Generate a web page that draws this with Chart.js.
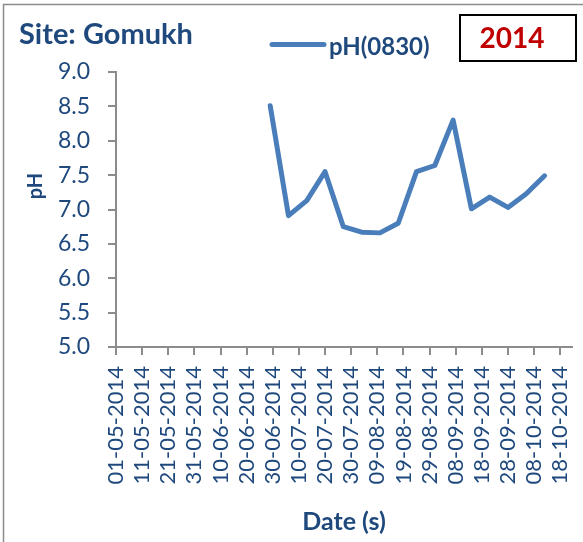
<!DOCTYPE html>
<html>
<head>
<meta charset="utf-8">
<script src="https://cdn.jsdelivr.net/npm/chart.js@4.4.1/dist/chart.umd.min.js"></script>
<style>
  html, body { margin: 0; padding: 0; background: #ffffff; }
  #wrap { position: relative; width: 583px; height: 542px; }
</style>
</head>
<body>
<div id="wrap"><canvas id="c" width="583" height="542"></canvas></div>
<script>
// ---- Data ----
const sampleDates = ['29-06-2014','06-07-2014','13-07-2014','20-07-2014','27-07-2014','03-08-2014','10-08-2014','17-08-2014',
                     '24-08-2014','31-08-2014','07-09-2014','14-09-2014','21-09-2014','28-09-2014','05-10-2014','12-10-2014'];
const phValues = [8.51, 6.91, 7.13, 7.55, 6.75, 6.67, 6.66, 6.80, 7.55, 7.64, 8.30, 7.01, 7.18, 7.03, 7.23, 7.49];
const xTickLabels = ['01-05-2014','11-05-2014','21-05-2014','31-05-2014','10-06-2014','20-06-2014','30-06-2014','10-07-2014',
                     '20-07-2014','30-07-2014','09-08-2014','19-08-2014','29-08-2014','08-09-2014','18-09-2014','28-09-2014',
                     '08-10-2014','18-10-2014'];
const yTickValues = [5.0, 5.5, 6.0, 6.5, 7.0, 7.5, 8.0, 8.5, 9.0];
const seriesName = 'pH(0830)';
const siteTitle = 'Site: Gomukh';
const yearLabel = '2014';
const xAxisTitle = 'Date (s)';
const yAxisTitle = 'pH';

function dayNum(s) {
  const [d, m, y] = s.split('-').map(Number);
  return Date.UTC(y, m - 1, d) / 86400000;
}
const xMin = dayNum(xTickLabels[0]);
const xMax = xMin + 174.5;

const BLUE_TEXT = '#1F497D';
const LINE_BLUE = '#4A7EBB';
const AXIS_GRAY = '#8C8C8C';

const decorPlugin = {
  id: 'decor',
  afterDraw(chart) {
    const ctx = chart.ctx;
    ctx.save();
    // outer frame
    ctx.strokeStyle = '#8C8C8C';
    ctx.lineWidth = 1.5;
    ctx.beginPath();
    ctx.moveTo(3.5, 600); ctx.lineTo(3.5, 4.5); ctx.lineTo(600, 4.5);
    ctx.stroke();
    // site title
    ctx.fillStyle = BLUE_TEXT;
    ctx.font = 'bold 29px Lato';
    ctx.textAlign = 'left';
    ctx.textBaseline = 'alphabetic';
    ctx.fillText(siteTitle, 19, 44);
    // legend
    ctx.strokeStyle = LINE_BLUE;
    ctx.lineWidth = 5;
    ctx.lineCap = 'round';
    ctx.beginPath();
    ctx.moveTo(272, 44.5); ctx.lineTo(324, 44.5);
    ctx.stroke();
    ctx.font = 'bold 24px Lato';
    ctx.fillStyle = BLUE_TEXT;
    ctx.fillText(seriesName, 329, 55);
    // year box
    ctx.lineCap = 'butt';
    ctx.strokeStyle = '#000000';
    ctx.lineWidth = 2;
    ctx.strokeRect(460, 15, 116, 46);
    ctx.fillStyle = '#C00000';
    ctx.font = 'bold 28px Lato';
    ctx.textAlign = 'center';
    ctx.textBaseline = 'middle';
    ctx.fillText(yearLabel, 512, 38.5);
    // y axis title
    ctx.translate(36, 186);
    ctx.rotate(-Math.PI / 2);
    ctx.fillStyle = BLUE_TEXT;
    ctx.font = 'bold 20px Lato';
    ctx.fillText(yAxisTitle, 0, 0);
    ctx.restore();
  }
};

new Chart(document.getElementById('c'), {
  type: 'line',
  data: {
    datasets: [{
      label: seriesName,
      data: sampleDates.map((d, i) => ({ x: dayNum(d), y: phValues[i] })),
      borderColor: LINE_BLUE,
      backgroundColor: LINE_BLUE,
      borderWidth: 5,
      pointRadius: 0,
      tension: 0,
      borderCapStyle: 'round',
      borderJoinStyle: 'round',
      fill: false
    }]
  },
  options: {
    responsive: false,
    animation: false,
    events: [],
    layout: { padding: { top: 72, right: 11, left: 0, bottom: 0 } },
    plugins: {
      legend: { display: false },
      title: { display: false },
      tooltip: { enabled: false }
    },
    scales: {
      x: {
        type: 'linear',
        min: xMin,
        max: xMax,
        afterFit(scale) { scale.height = 195; scale.paddingLeft = 0; scale.paddingRight = 0; },
        afterBuildTicks(scale) { scale.ticks = xTickLabels.map(l => ({ value: dayNum(l) })); },
        grid: { display: true, drawOnChartArea: false, drawTicks: true, tickLength: 8, color: AXIS_GRAY, lineWidth: 2 },
        border: { display: true, color: AXIS_GRAY, width: 2 },
        ticks: {
          autoSkip: false,
          maxRotation: 90,
          minRotation: 90,
          padding: 11,
          color: BLUE_TEXT,
          font: { family: 'Lato', size: 22 },
          callback: (v, i) => xTickLabels[i]
        },
        title: {
          display: true,
          text: xAxisTitle,
          color: BLUE_TEXT,
          font: { family: 'Lato', size: 25, weight: 'bold' },
          padding: { top: 0, bottom: 5 }
        }
      },
      y: {
        min: 5,
        max: 9,
        afterFit(scale) { scale.width = 116; scale.paddingTop = 0; scale.paddingBottom = 0; },
        afterBuildTicks(scale) { scale.ticks = yTickValues.map(v => ({ value: v })); },
        grid: { display: true, drawOnChartArea: false, drawTicks: true, tickLength: 8, color: AXIS_GRAY, lineWidth: 2 },
        border: { display: true, color: AXIS_GRAY, width: 2 },
        ticks: {
          padding: 18,
          color: BLUE_TEXT,
          font: { family: 'Lato', size: 23 },
          callback: v => Number(v).toFixed(1)
        }
      }
    }
  },
  plugins: [decorPlugin]
});
</script>
</body>
</html>
